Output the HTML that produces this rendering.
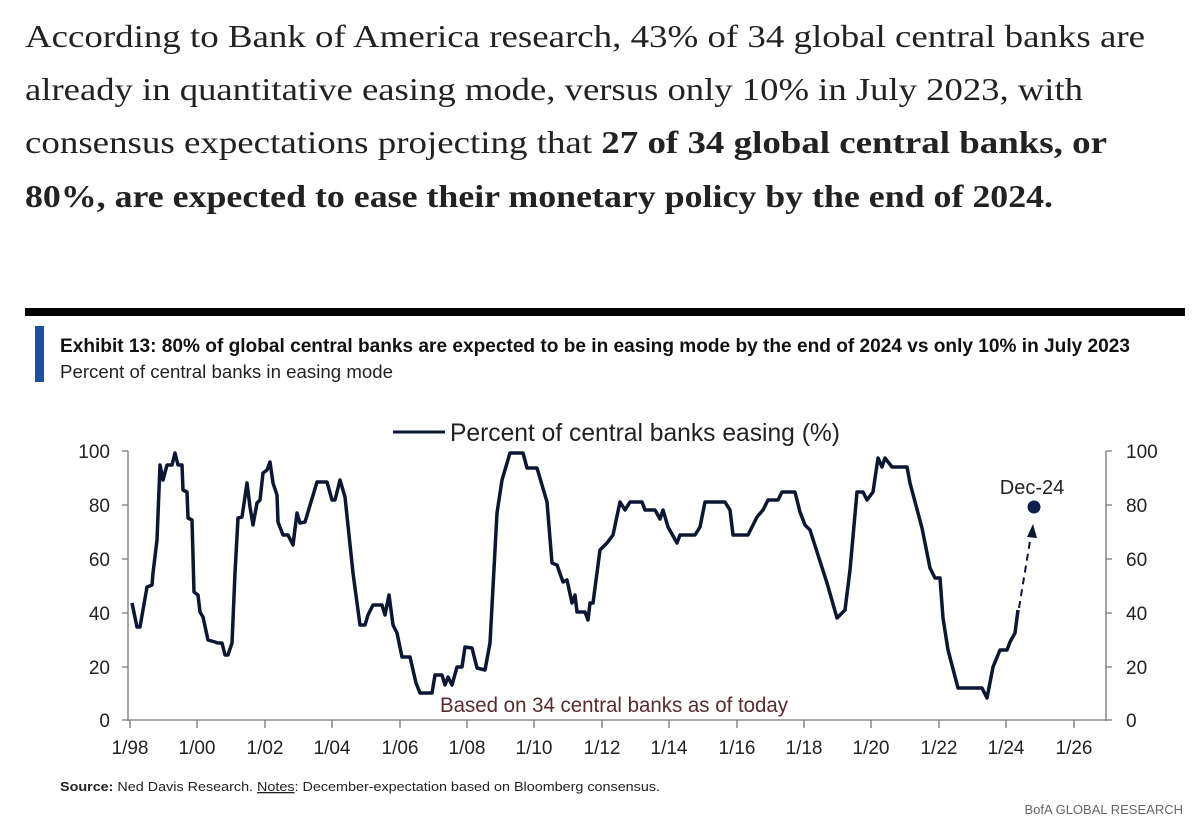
<!DOCTYPE html>
<html><head><meta charset="utf-8"><style>html,body{margin:0;padding:0;background:#fff}svg{display:block}</style></head><body>
<svg width="1200" height="839" viewBox="0 0 1200 839" xmlns="http://www.w3.org/2000/svg">
<g font-family="Liberation Serif, serif" font-size="32" fill="#222">
<text x="25" y="47" textLength="1120" lengthAdjust="spacingAndGlyphs">According to Bank of America research, 43% of 34 global central banks are</text>
<text x="25" y="100" textLength="1058" lengthAdjust="spacingAndGlyphs">already in quantitative easing mode, versus only 10% in July 2023, with</text>
<text x="25" y="153" textLength="1082" lengthAdjust="spacingAndGlyphs">consensus expectations projecting that <tspan font-weight="bold">27 of 34 global central banks, or</tspan></text>
<text x="25" y="207" font-weight="bold" textLength="1028" lengthAdjust="spacingAndGlyphs">80%, are expected to ease their monetary policy by the end of 2024.</text>
</g>
<rect x="25" y="308" width="1160" height="8" fill="#000"/>
<rect x="35" y="326" width="9" height="56" fill="#1f4fa0"/>
<g font-family="Liberation Sans, sans-serif">
<text x="60" y="352" font-size="19" font-weight="bold" fill="#111" textLength="1070" lengthAdjust="spacingAndGlyphs">Exhibit 13: 80% of global central banks are expected to be in easing mode by the end of 2024 vs only 10% in July 2023</text>
<text x="60" y="378" font-size="18" fill="#222" textLength="333" lengthAdjust="spacingAndGlyphs">Percent of central banks in easing mode</text>
<line x1="393" y1="432" x2="445" y2="432" stroke="#0d1633" stroke-width="3"/>
<text x="450" y="441" font-size="25" fill="#222" textLength="390" lengthAdjust="spacingAndGlyphs">Percent of central banks easing (%)</text>
<g stroke="#777" stroke-width="1.3" fill="none">
<line x1="128" y1="451" x2="128" y2="721"/>
<line x1="128" y1="720" x2="1106" y2="720"/>
<line x1="1106" y1="451" x2="1106" y2="721"/>
<path d="M122 451H128M122 505H128M122 559H128M122 613H128M122 667H128M122 720H128"/>
<path d="M1106 451H1112M1106 505H1112M1106 559H1112M1106 613H1112M1106 667H1112M1106 720H1112"/>
<path d="M130 720V728M197 720V728M265 720V728M332 720V728M400 720V728M467 720V728M534 720V728M602 720V728M669 720V728M737 720V728M804 720V728M871 720V728M939 720V728M1006 720V728M1074 720V728"/>
</g>
<g font-size="19" fill="#222" text-anchor="end">
<text x="110" y="458">100</text><text x="110" y="512">80</text><text x="110" y="566">60</text><text x="110" y="620">40</text><text x="110" y="674">20</text><text x="110" y="727">0</text>
</g>
<g font-size="19" fill="#222">
<text x="1126" y="458">100</text><text x="1126" y="512">80</text><text x="1126" y="566">60</text><text x="1126" y="620">40</text><text x="1126" y="674">20</text><text x="1126" y="727">0</text>
</g>
<g font-size="19" fill="#222" text-anchor="middle">
<text x="130" y="754">1/98</text><text x="197" y="754">1/00</text><text x="265" y="754">1/02</text><text x="332" y="754">1/04</text><text x="400" y="754">1/06</text><text x="467" y="754">1/08</text><text x="534" y="754">1/10</text><text x="602" y="754">1/12</text><text x="669" y="754">1/14</text><text x="737" y="754">1/16</text><text x="804" y="754">1/18</text><text x="871" y="754">1/20</text><text x="939" y="754">1/22</text><text x="1006" y="754">1/24</text><text x="1074" y="754">1/26</text>
</g>
<polyline fill="none" stroke="#0d1633" stroke-width="3.5" stroke-linejoin="round" points="132,603 137,627 140,627 147,587 152,585 153,573 157,540 160,465 163,480 167,465 172,465 175,453 178,465 182,465 183,490 187,492 188,518 192,520 194,592 198,595 200,612 203,617 208,640 215,642 218,643 222,643 225,655 228,655 232,643 235,573 238,518 242,517 247,483 250,507 253,525 257,503 260,500 263,473 267,470 270,462 273,483 277,495 278,522 283,535 288,535 293,545 297,513 300,523 305,522 308,512 317,482 327,482 332,500 335,500 340,480 345,497 353,573 360,625 365,625 368,615 373,605 382,605 385,615 389,595 393,625 397,633 402,657 410,657 416,683 420,693 432,693 435,675 442,675 445,685 448,677 452,685 457,667 462,667 465,647 472,648 477,668 485,670 490,643 497,513 502,480 510,453 523,453 527,468 537,468 547,502 552,563 557,565 563,582 567,580 572,603 575,595 577,612 585,612 588,620 590,603 593,603 600,550 607,543 613,535 620,502 625,510 630,502 642,502 645,510 655,510 660,519 663,510 668,527 677,543 680,535 695,535 700,527 705,502 725,502 730,510 733,535 748,535 757,517 763,510 768,500 778,500 782,492 795,492 800,512 805,525 810,530 818,555 827,583 837,618 845,610 850,570 857,492 863,492 867,500 873,492 878,458 882,467 885,458 892,467 907,467 910,483 922,528 930,568 935,578 940,578 943,618 948,650 958,688 982,688 987,698 993,667 1000,650 1007,650 1010,642 1015,633 1018,610"/>
<line x1="1019" y1="608" x2="1031" y2="535" stroke="#0d1633" stroke-width="2" stroke-dasharray="7,5"/>
<polygon points="1033,524 1027,537 1037,538" fill="#0d1633"/>
<circle cx="1034" cy="507" r="6.5" fill="#0d1f4d"/>
<text x="1032" y="494" font-size="20" fill="#222" text-anchor="middle">Dec-24</text>
<text x="440" y="712" font-size="21" fill="#5a2a30" textLength="348" lengthAdjust="spacingAndGlyphs">Based on 34 central banks as of today</text>
<text x="60" y="791" font-size="13" fill="#222" textLength="600" lengthAdjust="spacingAndGlyphs"><tspan font-weight="bold">Source:</tspan> Ned Davis Research. <tspan text-decoration="underline">Notes</tspan>: December-expectation based on Bloomberg consensus.</text>
<text x="1183" y="814" font-size="13" fill="#666" text-anchor="end">BofA GLOBAL RESEARCH</text>
</g>
</svg>
</body></html>
